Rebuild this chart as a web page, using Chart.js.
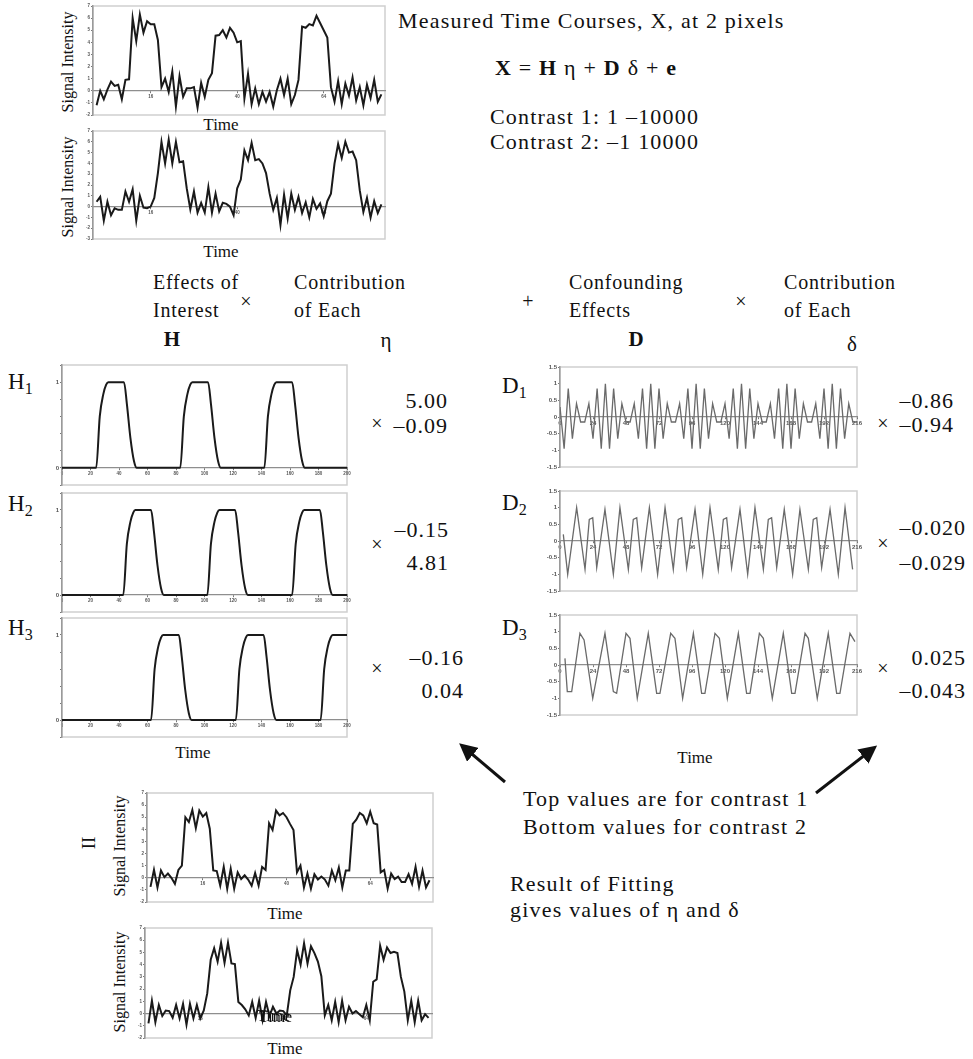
<!DOCTYPE html>
<html>
<head>
<meta charset="utf-8">
<script src="https://cdn.jsdelivr.net/npm/chart.js@4.4.1/dist/chart.umd.min.js"></script>
<style>
  body { margin: 0; background: #fff; }
  #page { position: relative; width: 973px; height: 1059px; overflow: hidden; font-family: "Liberation Serif", serif; color: #111; }
  .t, .r, .ctr, .rot { position: absolute; white-space: nowrap; line-height: 1; }
  .r { text-align: right; }
  .ctr { transform: translateX(-50%); }
  .rot { transform: translate(-50%, -50%) rotate(-90deg); font-size: 16px; }
  .body { font-size: 22px; letter-spacing: 1.2px; }
  .head { font-size: 20px; letter-spacing: 0.8px; }
  .num { font-size: 22px; letter-spacing: 1px; }
  .cap { font-size: 17px; }
  sub { font-size: 0.7em; vertical-align: -0.3em; line-height: 0; }
</style>
</head>
<body>
<div id="page">
  <!-- equation and contrasts -->
  <div class="t body" style="left:398px;top:10px">Measured Time Courses, X, at 2 pixels</div>
  <div class="t body" style="left:495px;top:57px"><b>X</b> = <b>H</b> η + <b>D</b> δ + <b>e</b></div>
  <div class="t body" style="left:490px;top:106px">Contrast 1: 1 –10000</div>
  <div class="t body" style="left:490px;top:131px">Contrast 2: –1 10000</div>

  <!-- column headings -->
  <div class="t head" style="left:153px;top:272px">Effects of</div>
  <div class="t head" style="left:153px;top:300px">Interest</div>
  <div class="ctr" style="left:246px;top:291px;font-size:20px">×</div>
  <div class="t head" style="left:294px;top:272px">Contribution</div>
  <div class="t head" style="left:294px;top:300px">of Each</div>
  <div class="ctr" style="left:528px;top:291px;font-size:20px">+</div>
  <div class="t head" style="left:569px;top:272px">Confounding</div>
  <div class="t head" style="left:569px;top:300px">Effects</div>
  <div class="ctr" style="left:741px;top:291px;font-size:20px">×</div>
  <div class="t head" style="left:784px;top:272px">Contribution</div>
  <div class="t head" style="left:784px;top:300px">of Each</div>
  <div class="ctr" style="left:172px;top:329px;font-size:21px;font-weight:bold">H</div>
  <div class="ctr" style="left:386px;top:330px;font-size:21px">η</div>
  <div class="ctr" style="left:636px;top:329px;font-size:21px;font-weight:bold">D</div>
  <div class="ctr" style="left:852px;top:334px;font-size:21px">δ</div>

  <!-- regressor names -->
  <div class="t" style="left:8px;top:370px;font-size:23px">H<sub>1</sub></div>
  <div class="t" style="left:8px;top:492px;font-size:23px">H<sub>2</sub></div>
  <div class="t" style="left:8px;top:616px;font-size:23px">H<sub>3</sub></div>
  <div class="t" style="left:502px;top:374px;font-size:23px">D<sub>1</sub></div>
  <div class="t" style="left:502px;top:491px;font-size:23px">D<sub>2</sub></div>
  <div class="t" style="left:502px;top:616px;font-size:23px">D<sub>3</sub></div>

  <!-- fitted coefficients -->
  <div class="ctr" style="left:377px;top:413px;font-size:20px">×</div>
  <div class="r num" style="right:525px;top:390px">5.00</div>
  <div class="r num" style="right:525px;top:415px">–0.09</div>
  <div class="ctr" style="left:377px;top:534px;font-size:20px">×</div>
  <div class="r num" style="right:524px;top:519px">–0.15</div>
  <div class="r num" style="right:524px;top:552px">4.81</div>
  <div class="ctr" style="left:377px;top:658px;font-size:20px">×</div>
  <div class="r num" style="right:509px;top:647px">–0.16</div>
  <div class="r num" style="right:509px;top:680px">0.04</div>
  <div class="ctr" style="left:883px;top:413px;font-size:20px">×</div>
  <div class="r num" style="right:19px;top:390px">–0.86</div>
  <div class="r num" style="right:19px;top:414px">–0.94</div>
  <div class="ctr" style="left:883px;top:533px;font-size:20px">×</div>
  <div class="r num" style="right:7px;top:517px">–0.020</div>
  <div class="r num" style="right:7px;top:552px">–0.029</div>
  <div class="ctr" style="left:883px;top:658px;font-size:20px">×</div>
  <div class="r num" style="right:7px;top:647px">0.025</div>
  <div class="r num" style="right:7px;top:680px">–0.043</div>

  <!-- axis captions -->
  <div class="rot" style="left:68px;top:62px">Signal Intensity</div>
  <div class="ctr cap" style="left:221px;top:116px">Time</div>
  <div class="rot" style="left:68px;top:187px">Signal Intensity</div>
  <div class="ctr cap" style="left:221px;top:243px">Time</div>
  <div class="ctr cap" style="left:193px;top:744px">Time</div>
  <div class="ctr cap" style="left:695px;top:749px">Time</div>
  <div class="rot" style="left:88px;top:843px;font-size:19px">II</div>
  <div class="rot" style="left:120px;top:846px">Signal Intensity</div>
  <div class="ctr cap" style="left:285px;top:905px">Time</div>
  <div class="rot" style="left:120px;top:982px">Signal Intensity</div>
  <div class="ctr cap" style="left:285px;top:1040px">Time</div>

  <!-- notes -->
  <div class="t body" style="left:523px;top:788px">Top values are for contrast 1</div>
  <div class="t body" style="left:523px;top:816px">Bottom values for contrast 2</div>
  <div class="t body" style="left:510px;top:873px">Result of Fitting</div>
  <div class="t body" style="left:510px;top:899px">gives values of η and δ</div>

  <svg width="973" height="1059" style="position:absolute;left:0;top:0;pointer-events:none">
    <defs>
      <marker id="head" markerWidth="6" markerHeight="6" refX="3" refY="3" orient="auto" markerUnits="strokeWidth">
        <path d="M0,0 L6,3 L0,6 Z" fill="#111"/>
      </marker>
    </defs>
    <line x1="505" y1="782" x2="466" y2="749" stroke="#111" stroke-width="3" marker-end="url(#head)"/>
    <line x1="816" y1="793" x2="870" y2="751" stroke="#111" stroke-width="3" marker-end="url(#head)"/>
  </svg>
</div>

<script>
// measured signal at the two pixels, one value per scan
const measured1 = [
  -1.2, 0.0, -0.7, 0.1, 0.75, 0.4, 0.5, -0.7, 0.9, 0.95,
  6.0, 4.1, 6.3, 4.8, 5.75, 5.5, 5.5, 4.2, 0.3, 1.0,
  -0.1, 1.6, -1.3, 1.2, -0.5, 0.2, 0.2, 0.3, -1.4, 0.65,
  -0.5, 0.9, 1.45, 4.55, 4.6, 5.0, 4.4, 5.2, 4.8, 4.0,
  4.1, -0.65, 1.4, -1.1, 0.2, -1.1, -0.1, -0.9, -0.1, -1.3,
  0.05, 1.0, -0.35, 1.0, -1.1, -0.35, 0.9, 5.3, 5.2, 5.5,
  5.4, 6.2, 5.6, 5.0, 4.4, 0.3, -0.9, 0.8, -1.1, 0.6,
  -0.4, 1.1, -0.8, 0.3, -1.2, 0.5, -0.6, 0.9, -0.9, -0.3
];
const measured2 = [
  0.45, 0.9, -1.3, 0.45, -0.8, -0.15, -0.3, -0.3, 1.4, 0.45,
  1.6, -1.3, 1.0, -0.1, -0.15, 0.0, 0.8, 3.1, 6.0, 4.0,
  6.2, 4.0, 6.0, 4.1, 4.2, 1.7, -0.25, 1.4, -0.55, 0.35,
  -0.55, 1.8, -0.55, 1.2, -0.45, 0.35, 0.25, 0.0, -0.8, 1.7,
  2.5, 5.2, 4.3, 5.9, 4.3, 4.4, 4.0, 3.1, 1.2, -0.3,
  0.8, -1.7, 1.1, -1.1, 1.2, -0.3, 0.9, -0.6, 0.4, -1.0,
  0.7, -0.2, 0.3, -0.9, 0.5, 1.2, 4.0, 5.8, 4.5, 6.0,
  5.0, 5.1, 4.3, 1.5, -0.5, 0.8, -1.0, 0.5, -0.6, 0.2
];
// fitted signal (result of the fit)
const fitted1 = [
  -0.75, 0.65, -0.8, 0.6, 0.05, 0.35, 0.0, -0.5, 0.65, 1.0,
  5.0, 4.6, 5.6, 4.1, 5.55, 5.05, 5.35, 4.05, 0.6, 0.55,
  -0.65, 0.9, -0.9, 0.75, -0.9, 0.45, -0.1, 0.2, -0.15, -0.65,
  0.4, -0.65, 0.9, 0.65, 4.5, 3.95, 5.55, 5.15, 5.35, 5.0,
  4.45, 3.95, 0.45, 1.0, -0.8, 0.35, -0.9, 0.3, -0.15, 0.1,
  -0.15, -0.65, 0.6, -0.2, 0.85, -0.8, 0.6, 0.6, 4.45, 4.8,
  5.35, 5.15, 4.5, 5.45, 4.5, 4.4, 0.45, 0.65, -0.9, 0.35,
  -0.1, 0.1, -0.35, -0.35, 0.3, -0.5, 0.9, -0.75, 0.6, -0.8,
  -0.2
];
const fitted2 = [
  -0.8, 1.05, -0.7, 0.7, -0.2, 0.25, 0.2, -0.35, 0.7, -0.4,
  0.8, -0.9, 0.8, -0.4, 0.7, -0.4, 0.25, 1.65, 4.4, 5.35,
  4.25, 5.8, 4.15, 5.8, 4.1, 4.05, 0.95, 0.7, 0.35, -0.15,
  0.95, -0.35, 1.05, -0.55, 0.95, -0.2, 0.55, 0.0, 0.25, 0.2,
  -0.15, 1.9, 3.0, 5.2, 4.0, 5.75, 4.1, 5.5, 4.95, 4.25,
  3.05, -0.15, 0.7, -0.55, 0.95, -0.7, 1.05, -0.55, 0.55, 0.0,
  0.2, -0.05, -0.3, 0.7, -0.55, 2.6, 2.8, 5.55, 4.4, 5.4,
  4.95, 5.05, 4.95, 3.0, 1.8, -0.55, 1.05, -0.7, 1.05, -0.55,
  -0.05, -0.35
];
const signalTicks = [16, 40, 64];

// effects of interest: time / value break points of the three block regressors
const h1Time = [0, 24, 26.5, 29, 31, 32.5, 43.5, 45.5, 48, 50.5, 52.5,
  83, 85.5, 88, 90, 91.5, 102.5, 104.5, 107, 109.5, 111.5,
  142, 144.5, 147, 149, 150.5, 161.5, 163.5, 166, 168.5, 170.5, 200];
const h1Value = [0, 0, 0.6, 0.86, 0.97, 1, 1, 0.75, 0.35, 0.08, 0,
  0, 0.6, 0.86, 0.97, 1, 1, 0.75, 0.35, 0.08, 0,
  0, 0.6, 0.86, 0.97, 1, 1, 0.75, 0.35, 0.08, 0, 0];
const h2Time = [0, 43, 45.5, 48, 50, 51.5, 62.5, 64.5, 67, 69.5, 71.5,
  102, 104.5, 107, 109, 110.5, 121.5, 123.5, 126, 128.5, 130.5,
  161.5, 164, 166.5, 168.5, 170, 181, 183, 185.5, 188, 190, 200];
const h2Value = [0, 0, 0.6, 0.86, 0.97, 1, 1, 0.75, 0.35, 0.08, 0,
  0, 0.6, 0.86, 0.97, 1, 1, 0.75, 0.35, 0.08, 0,
  0, 0.6, 0.86, 0.97, 1, 1, 0.75, 0.35, 0.08, 0, 0];
const h3Time = [0, 62.5, 65, 67.5, 69.5, 71, 82, 84, 86.5, 89, 91,
  122, 124.5, 127, 129, 130.5, 141.5, 143.5, 146, 148.5, 150.5,
  181.5, 184, 186.5, 188.5, 190, 200];
const h3Value = [0, 0, 0.6, 0.86, 0.97, 1, 1, 0.75, 0.35, 0.08, 0,
  0, 0.6, 0.86, 0.97, 1, 1, 0.75, 0.35, 0.08, 0,
  0, 0.6, 0.86, 0.97, 1, 1];

// confounding effects (cosine set), time in seconds
const d1Step = 3;
const d1Value = [
  0.3, -0.95, 0.85, -0.65, 0.4, -0.15, -0.15, 0.4, -0.65, 0.85, -0.95,
  1.0, -0.95, 0.85, -0.65, 0.4, -0.15, -0.15, 0.4, -0.65, 0.85, -0.95,
  1.0, -0.95, 0.85, -0.65, 0.4, -0.15, -0.15, 0.4, -0.65, 0.85, -0.95,
  1.0, -0.95, 0.85, -0.65, 0.4, -0.15, -0.15, 0.4, -0.65, 0.85, -0.95,
  1.0, -0.95, 0.85, -0.65, 0.4, -0.15, -0.15, 0.4, -0.65, 0.85, -0.95,
  1.0, -0.95, 0.85, -0.65, 0.4, -0.15, -0.15, 0.4, -0.65, 0.85, -0.95,
  1.0, -0.95, 0.85, -0.65, 0.4, -0.15, -0.15
];
const d2Time = [2.4, 5.6, 12.1, 18.2, 21.3, 23.8, 26.7, 32.7, 38.8,
  43.6, 49.7, 53.3, 55.8, 59.4, 65, 71,
  76.4, 82.4, 86, 88.5, 92.1, 98.2, 103.8,
  109.1, 115.1, 118.8, 121.2, 124.8, 130.9, 136.5,
  141.8, 147.9, 151.5, 153.9, 157.6, 163.1, 169.2,
  174.5, 180.6, 184.2, 186.7, 190.3, 196.4, 202.4, 207.3, 212.8];
const d2Value = [0.2, -1.0, 1.0, -0.85, 0.65, 0.7, -0.8, 0.95, -1.0,
  1.0, -0.85, 0.65, 0.7, -0.8, 1.0, -1.0,
  1.0, -0.85, 0.65, 0.7, -0.8, 0.95, -1.0,
  1.0, -0.85, 0.65, 0.7, -0.8, 0.95, -1.0,
  1.0, -0.85, 0.65, 0.7, -0.8, 0.95, -1.0,
  0.95, -0.85, 0.65, 0.7, -0.8, 0.95, -1.0, 1.0, -0.85];
const d3Time = [3.6, 5.3, 8.5, 14.5, 17.5, 23.8, 32.7, 38.8, 41.2, 48, 50.9, 56.2,
  64.2, 70.3, 72.7, 80.5, 83.6, 89.2, 97, 103, 105.4, 112.7, 115.9, 121.7,
  129.7, 135.7, 138.2, 145, 147.9, 154.4, 162.4, 168.5, 170.9, 178.2, 180.6, 187.1,
  195.1, 201.2, 203.6, 210.9, 214.5];
const d3Value = [0.2, -0.8, -0.8, 0.95, 0.75, -1.0, 0.95, -0.8, -0.85, 0.95, 0.8, -1.0,
  0.95, -0.85, -0.85, 0.95, 0.8, -1.0, 0.95, -0.85, -0.85, 0.95, 0.8, -1.0,
  0.95, -0.85, -0.85, 0.95, 0.8, -1.0, 0.95, -0.85, -0.85, 0.95, 0.8, -1.0,
  0.95, -0.85, -0.85, 0.95, 0.7];

Chart.defaults.font.family = "Liberation Sans";
Chart.defaults.animation = false;

const page = document.getElementById("page");
const PAD = 8;
const tickFont = { family: "Liberation Sans", size: 6, weight: "bold" };
const tinyFont = { family: "Liberation Sans", size: 4.5, weight: "bold" };

// light box around each plot area
const framePlugin = {
  id: "frame",
  beforeDraw(chart) {
    const { ctx, chartArea: a } = chart;
    ctx.save();
    ctx.strokeStyle = "#cfcfcf";
    ctx.lineWidth = 1.5;
    ctx.strokeRect(a.left, a.top, a.width, a.height);
    ctx.restore();
  },
};

function xAxis(min, max, opts) {
  return {
    type: "linear",
    min: min,
    max: max,
    position: { y: 0 },
    border: { display: true, color: "#8e8e8e", width: 1.2 },
    grid: { drawOnChartArea: false, tickLength: 2, color: "#777" },
    afterBuildTicks: opts.ticks ? (s) => { s.ticks = opts.ticks.map((v) => ({ value: v })); } : undefined,
    ticks: { stepSize: opts.step, font: opts.font || tickFont, color: "#555", padding: 1, maxRotation: 0, autoSkip: false },
  };
}

function yAxis(min, max, step, yw, font, label) {
  return {
    min: min,
    max: max,
    afterFit: (s) => { s.width = yw; },
    border: { display: true, color: "#9a9a9a", width: 1.5 },
    grid: { drawOnChartArea: false, tickLength: 2, color: "#777" },
    ticks: { stepSize: step, font: font, color: "#555", padding: 1, callback: label },
  };
}

function series(xs, ys, color, width, smooth) {
  return {
    data: ys.map((y, i) => ({ x: xs[i], y: y })),
    borderColor: color,
    borderWidth: width,
    pointRadius: 0,
    fill: false,
    tension: smooth ? 0.4 : 0,
    cubicInterpolationMode: smooth ? "monotone" : "default",
  };
}

// box = [left, top, width, height] of the plot area on the page
function lineChart(box, yw, scales, dataset) {
  const cv = document.createElement("canvas");
  const w = box[2] + yw + 2 * PAD;
  const h = box[3] + 2 * PAD;
  cv.width = w;
  cv.height = h;
  cv.style.cssText = "position:absolute;left:" + (box[0] - yw - PAD) + "px;top:" + (box[1] - PAD) +
    "px;width:" + w + "px;height:" + h + "px";
  page.appendChild(cv);
  return new Chart(cv, {
    type: "line",
    data: { datasets: [dataset] },
    options: {
      responsive: false,
      devicePixelRatio: 1,
      layout: { padding: PAD },
      plugins: { legend: { display: false }, tooltip: { enabled: false } },
      scales: scales,
    },
    plugins: [framePlugin],
  });
}

const scanIndex = (arr) => arr.map((_, i) => i + 1);
const near = (a, b) => Math.abs(a - b) < 1e-6;
const hLabel = (v) => (near(v, 0) ? "0" : near(v, 1) ? "1" : "");

// measured time courses
lineChart([93, 6, 292, 109], 9,
  { x: xAxis(0, 81, { ticks: signalTicks, font: tinyFont }), y: yAxis(-2, 7, 1, 9, tinyFont) },
  series(scanIndex(measured1), measured1, "#1a1a1a", 2));
lineChart([93, 131, 292, 108], 9,
  { x: xAxis(0, 81, { ticks: signalTicks, font: tinyFont }), y: yAxis(-3, 7, 1, 9, tinyFont) },
  series(scanIndex(measured2), measured2, "#1a1a1a", 2));

// effects of interest
[[h1Time, h1Value, 365, 120], [h2Time, h2Value, 493, 119], [h3Time, h3Value, 618, 119]].forEach((h) => {
  lineChart([62, h[2], 285, h[3]], 14,
    { x: xAxis(0, 200, { step: 20, font: tinyFont }), y: yAxis(-0.2, 1.2, 0.2, 14, tickFont, hLabel) },
    series(h[0], h[1], "#1a1a1a", 2, true));
});

// confounding effects
const d1Time = d1Value.map((_, k) => k * d1Step);
[[d1Time, d1Value, 367], [d2Time, d2Value, 491], [d3Time, d3Value, 615]].forEach((d) => {
  lineChart([560, d[2], 297, 100], 14,
    { x: xAxis(0, 216, { step: 24 }), y: yAxis(-1.5, 1.5, 0.5, 14, tickFont) },
    series(d[0], d[1], "#6a6a6a", 1.3));
});

// fitted time courses
lineChart([147, 793, 286, 109], 9,
  { x: xAxis(0, 82, { ticks: signalTicks, font: tinyFont }), y: yAxis(-2, 7, 1, 9, tinyFont) },
  series(scanIndex(fitted1), fitted1, "#1a1a1a", 2));
lineChart([145, 928, 287, 110], 9,
  { x: xAxis(0, 83, { ticks: signalTicks, font: tinyFont }), y: yAxis(-2, 7, 1, 9, tinyFont) },
  series(scanIndex(fitted2), fitted2, "#1a1a1a", 2));
</script>
<div style="position:absolute;left:257px;top:1008px;font-family:'Liberation Serif',serif;font-size:16px;line-height:1;color:#111;pointer-events:none">Time</div>
<div style="position:absolute;left:259px;top:1009px;font-family:'Liberation Serif',serif;font-size:16px;line-height:1;color:#111;pointer-events:none">Time</div>
</body>
</html>
